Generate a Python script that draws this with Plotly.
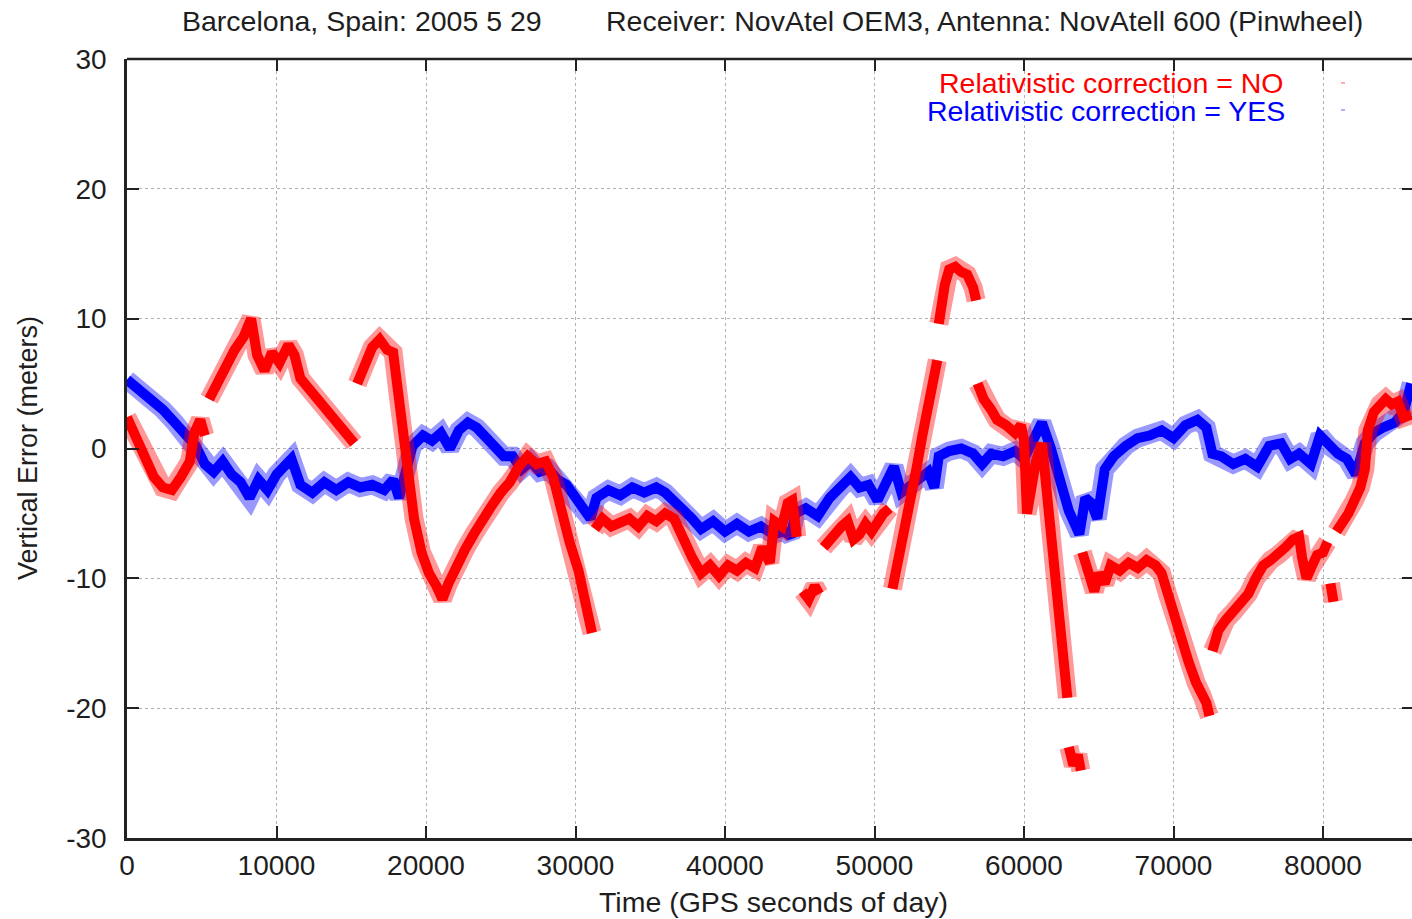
import plotly.graph_objects as go

# ---- data ----
blue_t = [0, 800, 1600, 2400, 3200, 4000, 4600, 5200, 5800, 6400, 7000, 7600, 8200, 8800, 9400,
          10000, 10600, 11000, 11600, 12400, 13200, 14000, 14800, 15600, 16400, 17200, 17800, 18200,
          18600, 19100, 19800, 20400, 21000, 21600, 22200, 22800, 23400, 24000, 24600, 25200, 25800,
          26400, 27000, 27600, 28200, 28800, 29400, 30000, 30600, 31000, 31400, 32200, 33000, 33800,
          34600, 35400, 36000, 36600, 37200, 37800, 38400, 39200, 40000, 40800, 41600, 42400, 43200,
          44000, 44400, 44700, 45400, 46200, 47000, 47600, 48400, 49000, 49600, 50200, 50800, 51300,
          51800, 52400, 53000, 53600, 54000, 54300, 55000, 55800, 56600, 57200, 57800, 58600, 59400,
          60000, 60600, 61200, 61800, 62400, 63000, 63700, 64100, 64500, 64900, 65400, 66000, 66800,
          67600, 68400, 69200, 70000, 70800, 71600, 72200, 72600, 73200, 74000, 74800, 75600, 76400,
          77200, 77800, 78400, 79200, 79800, 80400, 81000, 81600, 82200, 82800, 83400, 84000, 84800,
          85400, 85900]
blue_v = [5.3, 4.6, 3.8, 3.0, 2.0, 0.8, 0.2, -1.2, -1.8, -1.0, -2.0, -2.6, -3.8, -2.4, -3.2,
          -2.0, -1.2, -0.8, -2.8, -3.4, -2.6, -3.2, -2.6, -3.0, -2.8, -3.2, -2.4, -3.8,
          -2.0, 0.2, 1.0, 0.6, 1.2, 0.0, 1.4, 2.0, 1.6, 0.8, 0.2, -0.6, -0.6,
          -1.6, -1.0, -1.8, -1.6, -2.4, -2.8, -3.8, -4.6, -5.4, -3.8, -3.2, -3.6, -3.0,
          -3.4, -3.0, -3.4, -4.0, -4.8, -5.4, -6.2, -5.6, -6.4, -5.8, -6.4, -6.0, -6.6,
          -6.4, -6.8, -5.0, -4.6, -5.2, -3.8, -3.2, -2.2, -3.0, -2.8, -4.0, -2.6, -1.4,
          -3.4, -2.8, -2.2, -1.8, -3.0, -0.6, -0.2, 0.0, -0.4, -1.2, -0.4, -0.6, -0.2,
          -0.8, 0.6, 2.0, 0.0, -2.8, -4.8, -6.6, -3.8, -4.2, -5.4, -1.6, -0.6, 0.2,
          0.8, 1.0, 1.4, 0.8, 1.8, 2.2, 1.6, -0.4, -0.6, -1.2, -0.8, -1.4, 0.2,
          0.4, -0.8, -0.4, -1.2, 1.0, 0.2, -0.4, -0.8, -2.0, 0.4, 1.2, 1.6, 2.0,
          2.8, 5.0]

# red series: None marks a gap in the record
red_t = [0, 600, 1200, 1800, 2400, 3000, 3600, 4200, 4500, 4900, 5200, None,
         5500, 6000, 6600, 7200, 7800, 8300, 8700, 9200, 9700, 10200, 10800, 11200, 11600, 12200,
         12800, 13400, 14000, 14600, 15200, None,
         15400, 15900, 16400, 16900, 17400, 17800, 18100, 18400, 18800, 19200, 19700, 20200, 20700,
         21100, 21500, 22000, 22600, 23200, 23800, 24400, 25000, 25600, 26200, 26800, 27400, 28000,
         28500, 29000, 29600, 30200, 30700, 31100, None,
         31300, 31800, 32400, 33000, 33600, 34200, 34800, 35400, 36000, 36600, 37200, 37800, 38400,
         39000, 39600, 40200, 40800, 41400, 42000, 42500, 43000, 43300, 43800, 44200, 44500, 44800, None,
         45200, 45600, 46000, 46300, None,
         46600, 47000, 47400, 47800, 48200, 48600, 49000, 49400, 49800, 50200, 50600, 51000, None,
         51200, 51600, 52000, 52400, 52800, 53200, 53600, 54000, 54200, None,
         54300, 54500, 54700, 55000, 55400, 55800, 56200, 56600, 56800, None,
         56900, 57300, 57800, 58200, 58800, 59400, 59800, 60000, 60200, 60500, 60800, 61200, 61500,
         61900, 62300, 62700, 62900, None,
         63000, 63300, 63600, 63800, None,
         63900, 64300, 64700, 65000, 65400, 65800, 66400, 67000, 67600,
         68200, 68800, 69200, 69600, 70000, 70500, 71000, 71500, 71900, 72200, 72400, None,
         72600, 73000, 73500, 74000, 74500, 75000, 75500, 76000, 76500, 77000, 77500, 78000, 78400,
         78600, 78900, 79200, 79600, 80000, 80300, None,
         80500, 80700, None,
         80900, 81300, 81700, 82100, 82500, 82800, 83000, 83400, 83800, 84200, 84600, 85000, 85400,
         85900]
red_v = [2.4, 1.0, -0.6, -2.2, -3.0, -3.2, -2.2, -1.0, 1.2, 2.2, 1.0, None,
         3.8, 5.0, 6.2, 7.6, 8.6, 10.0, 7.2, 6.0, 7.4, 6.6, 8.0, 7.2, 5.4, 4.6,
         3.6, 3.0, 2.2, 1.4, 0.4, None,
         5.0, 6.6, 7.8, 8.4, 7.6, 7.4, 4.5, 1.0, -2.4, -5.4, -8.0, -9.6, -10.6,
         -11.6, -10.4, -9.0, -7.8, -6.6, -5.4, -4.4, -3.4, -2.6, -1.4, -0.6, -1.2, -1.0,
         -2.2, -4.6, -7.2, -9.4, -12.0, -14.2, None,
         -6.2, -5.4, -6.0, -5.8, -5.4, -6.0, -5.2, -5.6, -5.0, -5.4, -7.0, -8.4, -9.6,
         -9.0, -9.8, -9.0, -9.4, -8.8, -9.2, -7.6, -8.8, -5.6, -6.0, -4.2, -4.0, -6.8, None,
         -11.0, -11.6, -10.6, -11.2, None,
         -7.6, -7.0, -6.4, -6.0, -5.6, -7.0, -6.6, -5.8, -6.4, -5.6, -5.0, -4.6, None,
         -10.8, -8.6, -6.6, -4.2, -1.6, 1.0, 3.4, 5.6, 6.8, None,
         9.6, 11.6, 12.6, 13.8, 14.0, 13.6, 13.4, 12.4, 11.4, None,
         5.0, 3.8, 3.0, 2.2, 1.8, 1.2, 1.8, 0.6, -5.0, -3.0, -1.0, 0.4, -3.0,
         -8.0, -13.0, -18.0, -19.2, None,
         -23.0, -24.4, -23.6, -24.8, None,
         -8.0, -9.6, -11.0, -9.6, -10.4, -9.0, -9.4, -8.8, -9.2,
         -8.6, -9.0, -9.6, -11.2, -12.8, -14.6, -16.4, -18.0, -19.0, -19.6, -20.6, None,
         -15.6, -14.0, -13.2, -12.6, -12.0, -11.2, -10.0, -9.0, -8.6, -8.2, -7.6, -7.0, -6.8,
         -8.4, -10.0, -9.2, -8.2, -8.0, -7.2, None,
         -10.4, -11.8, None,
         -6.4, -5.8, -5.0, -4.0, -3.0, -1.6, 1.4, 2.8, 3.4, 3.8, 3.4, 3.6, 2.4,
         2.6]

x_ticks = [0, 10000, 20000, 30000, 40000, 50000, 60000, 70000, 80000]
x_tick_text = ["0", "10000", "20000", "30000", "40000", "50000", "60000", "70000", "80000"]
y_ticks = [-30, -20, -10, 0, 10, 20, 30]
y_tick_text = ["-30", "-20", "-10", "0", "10", "20", "30"]

title_left = "Barcelona, Spain: 2005 5 29"
title_right = "Receiver: NovAtel OEM3, Antenna: NovAtell 600 (Pinwheel)"
label_no = "Relativistic correction = NO"
label_yes = "Relativistic correction = YES"
x_title = "Time (GPS seconds of day)"
y_title = "Vertical Error (meters)"

# ---- figure ----
# page body margin is removed (post_script below), so the figure sits at (0,0);
# plot area from x=127..1412, y=59..838 as in the reference
W, H = 1412, 919
L, T = 127, 59
B = H - 838
R = 0
PW = W - L - R
PH = H - T - B
FONT = "Liberation Sans, Arial, sans-serif"
TXT = "#1e1e1e"
FS_TXT = 28.5   # horizontal texts
FS_TICK = 28
FS_VERT = 27

def px_x(px):
    return (px - L) / PW

def px_y(py):
    return 1 - (py - T) / PH

fig = go.Figure()
for xs, ys, col in [(blue_t, blue_v, "#0000ff"), (red_t, red_v, "#ff0000")]:
    fig.add_trace(go.Scatter(x=xs, y=ys, mode="lines", connectgaps=False, opacity=0.4,
                             line=dict(color=col, width=19), showlegend=False, hoverinfo="skip"))
    fig.add_trace(go.Scatter(x=xs, y=ys, mode="lines", connectgaps=False,
                             line=dict(color=col, width=10), showlegend=False))

axis_common = dict(ticks="inside", ticklen=12, tickwidth=2, tickcolor="#222",
                   showgrid=True, gridcolor="#b0b0b0", griddash="dot", gridwidth=1,
                   zeroline=False, tickfont=dict(family=FONT, size=FS_TICK, color=TXT))

fig.update_layout(
    width=W, height=H,
    margin=dict(l=L, r=R, t=T, b=B, pad=0, autoexpand=False),
    paper_bgcolor="white", plot_bgcolor="white",
    showlegend=False,
    xaxis=dict(range=[0, PW * 10000 / 149.5], tickvals=x_ticks, ticktext=x_tick_text,
               showline=True, linecolor="#222", linewidth=2.5,
               ticklabelstandoff=1, automargin=False, **axis_common),
    yaxis=dict(range=[-30, 30], tickvals=y_ticks, ticktext=y_tick_text,
               showline=True, linecolor="#222", linewidth=2.5,
               ticklabelstandoff=12, automargin=False, **axis_common),
    xaxis2=dict(overlaying="x", matches="x", side="top", tickvals=x_ticks,
                ticks="inside", ticklen=12, tickwidth=2, tickcolor="#222",
                showticklabels=False, showgrid=False, zeroline=False, showline=False),
    yaxis2=dict(overlaying="y", matches="y", side="right", tickvals=y_ticks,
                ticks="inside", ticklen=10, tickwidth=2, tickcolor="#222",
                showticklabels=False, showgrid=False, zeroline=False, showline=False),
)
# invisible trace to activate the mirrored tick axes
fig.add_trace(go.Scatter(x=[None], y=[None], xaxis="x2", yaxis="y2", showlegend=False))

# top border
fig.add_shape(type="line", xref="paper", yref="paper", x0=0, x1=1, y0=1, y1=1,
              line=dict(color="#222", width=2.5))

# tiny legend sample marks (gnuplot draws the key sample right of the text)
for py, col in [(83, "#ff6060"), (110, "#6060ff")]:
    fig.add_shape(type="rect", xref="paper", yref="paper",
                  x0=px_x(1341), x1=px_x(1345), y0=px_y(py + 1), y1=px_y(py - 1),
                  line=dict(width=0), fillcolor=col, opacity=0.5)

ann = []
ann.append(dict(text=title_left, x=px_x(180), y=px_y(21), xanchor="left", yanchor="middle"))
ann.append(dict(text=title_right, x=px_x(604), y=px_y(21), xanchor="left", yanchor="middle"))
ann.append(dict(text=x_title, x=px_x(773), y=px_y(902), xanchor="center", yanchor="middle"))
for a in ann:
    a.update(xref="paper", yref="paper", showarrow=False,
             font=dict(family=FONT, size=FS_TXT, color=TXT))
ann.append(dict(text=y_title, x=px_x(28), y=px_y(448), xanchor="center", yanchor="middle",
                textangle=-90, xref="paper", yref="paper", showarrow=False,
                font=dict(family=FONT, size=FS_VERT, color=TXT)))
ann.append(dict(text=label_no, x=px_x(1285), y=px_y(83), xanchor="right", yanchor="middle",
                xref="paper", yref="paper", showarrow=False,
                font=dict(family=FONT, size=FS_TXT, color="#ff0000")))
ann.append(dict(text=label_yes, x=px_x(1287), y=px_y(111), xanchor="right", yanchor="middle",
                xref="paper", yref="paper", showarrow=False,
                font=dict(family=FONT, size=FS_TXT, color="#0000ff")))
fig.update_layout(annotations=ann)

fig.write_html("out.html", config={"displayModeBar": False},
               post_script="document.body.style.margin='0px';")
